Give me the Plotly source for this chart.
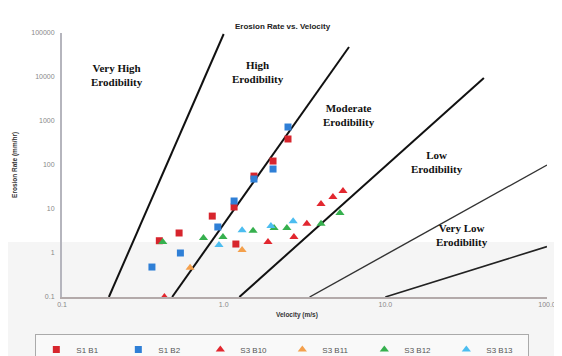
import math
import plotly.graph_objects as go

# ---- data ----
s1b1_v = [0.40, 0.53, 0.85, 1.16, 1.54, 2.02, 2.50, 1.19]
s1b1_e = [1.9, 2.85, 6.9, 11.1, 56, 123, 390, 1.6]
s1b2_v = [0.36, 0.54, 0.92, 1.16, 1.54, 2.02, 2.50]
s1b2_e = [0.48, 1.0, 3.9, 15.2, 48, 81, 730]
s3b10_v = [0.43, 1.88, 2.72, 3.27, 4.0, 4.74, 5.47]
s3b10_e = [0.1, 1.78, 2.3, 4.6, 13, 18.7, 25.7]
s3b11_v = [0.62, 1.30]
s3b11_e = [0.46, 1.17]
s3b12_v = [0.42, 0.75, 0.99, 1.52, 2.05, 2.46, 4.0, 5.24]
s3b12_e = [1.78, 2.2, 2.3, 3.2, 3.7, 3.7, 4.6, 8.1]
s3b13_v = [0.935, 1.30, 1.96, 2.69]
s3b13_e = [1.52, 3.3, 4.1, 5.3]

series_names = ["S1 B1", "S1 B2", "S3 B10", "S3 B11", "S3 B12", "S3 B13"]

# boundary lines (velocity, erosion rate) end points
boundary_v = [[0.195, 1.0], [0.48, 5.96], [1.25, 40.7], [3.4, 100], [10, 100]]
boundary_e = [[0.1, 95000], [0.1, 48000], [0.1, 9500], [0.1, 100], [0.1, 1.4]]

region_labels = ["Very High<br>Erodibility", "High<br>Erodibility", "Moderate<br>Erodibility",
                 "Low<br>Erodibility", "Very Low<br>Erodibility"]
region_v = [0.22, 1.62, 6.0, 20.8, 30]
region_e = [11000, 13000, 1380, 118, 2.56]

x_ticks = [0.1, 1, 10, 100]
x_tick_text = ["0.1", "1.0", "10.0", "100.0"]
y_ticks = [0.1, 1, 10, 100, 1000, 10000, 100000]
y_tick_text = ["0.1", "1", "10", "100", "1000", "10000", "100000"]

# ---- figure ----
fig = go.Figure()

line_styles = [(2, "#111111"), (2, "#111111"), (2, "#111111"), (1.4, "#333333"), (1.6, "#222222")]
for (bv, be), (w, c) in zip(zip(boundary_v, boundary_e), line_styles):
    fig.add_trace(go.Scatter(x=bv, y=be, mode="lines", line=dict(color=c, width=w),
                             showlegend=False, hoverinfo="skip"))

series = [
    (s1b1_v, s1b1_e, "square", "#d7252d", 7),
    (s1b2_v, s1b2_e, "square", "#2f7fd6", 7),
    (s3b10_v, s3b10_e, "triangle-up", "#e2272f", 8),
    (s3b11_v, s3b11_e, "triangle-up", "#f4a04c", 8),
    (s3b12_v, s3b12_e, "triangle-up", "#36b04e", 8),
    (s3b13_v, s3b13_e, "triangle-up", "#4cbdf0", 8),
]
for name, (v, e, sym, col, sz) in zip(series_names, series):
    fig.add_trace(go.Scatter(x=v, y=e, mode="markers", name=name, cliponaxis=False,
                             marker=dict(symbol=sym, color=col, size=sz, line=dict(width=0))))

for txt, v, e in zip(region_labels, region_v, region_e):
    fig.add_annotation(x=math.log10(v), y=math.log10(e), xref="x", yref="y", text="<b>" + txt + "</b>",
                       showarrow=False, font=dict(family="Liberation Serif", size=11, color="#111111"))

# title and axis titles
fig.add_annotation(x=0.456, y=1.049, xref="paper", yref="paper", text="<b>Erosion Rate vs. Velocity</b>",
                   showarrow=False, font=dict(family="Liberation Sans", size=8, color="#222222"))
fig.add_annotation(x=-0.097, y=0.5, xref="paper", yref="paper", text="<b>Erosion Rate (mm/hr)</b>",
                   textangle=-90, showarrow=False, xanchor="center",
                   font=dict(family="Liberation Sans", size=6.5, color="#333333"))
fig.add_annotation(x=0.485, y=-0.091, xref="paper", yref="paper", text="<b>Velocity (m/s)</b>",
                   showarrow=False, font=dict(family="Liberation Sans", size=6.5, color="#333333"))

# faint scan tint in lower part
fig.add_shape(type="rect", xref="paper", yref="paper", x0=-0.13, x1=1.06, y0=-0.26, y1=0.208,
              fillcolor="#f5f5f5", line=dict(width=0), layer="below")

fig.update_xaxes(type="log", range=[-1, 2], tickvals=x_ticks, ticktext=x_tick_text,
                 showgrid=False, zeroline=False, showline=True, linecolor="#b3aaaa", linewidth=2,
                 ticks="", tickfont=dict(family="Liberation Sans", size=7, color="#888888"))
fig.update_yaxes(type="log", range=[-1, 5], tickvals=y_ticks, ticktext=y_tick_text,
                 showgrid=False, zeroline=False, showline=True, linecolor="#b5b5bd", linewidth=2,
                 ticks="", ticklabelstandoff=4,
                 tickfont=dict(family="Liberation Sans", size=7, color="#888888"))

# page body adds an 8px offset, so margins are reduced by 8px at left/top
fig.update_layout(
    width=562, height=356,
    margin=dict(l=54, r=23, t=25, b=67, autoexpand=False),
    plot_bgcolor="rgba(0,0,0,0)", paper_bgcolor="white",
    legend=dict(orientation="h", x=-0.055, y=-0.140, xanchor="left", yanchor="top",
                bordercolor="#aaaaaa", borderwidth=1, bgcolor="#f9f9f9",
                itemwidth=30, entrywidth=37, traceorder="normal",
                tracegroupgap=0, valign="middle",
                font=dict(family="Liberation Sans", size=8, color="#555555")),
)

fig.write_html("out.html")
